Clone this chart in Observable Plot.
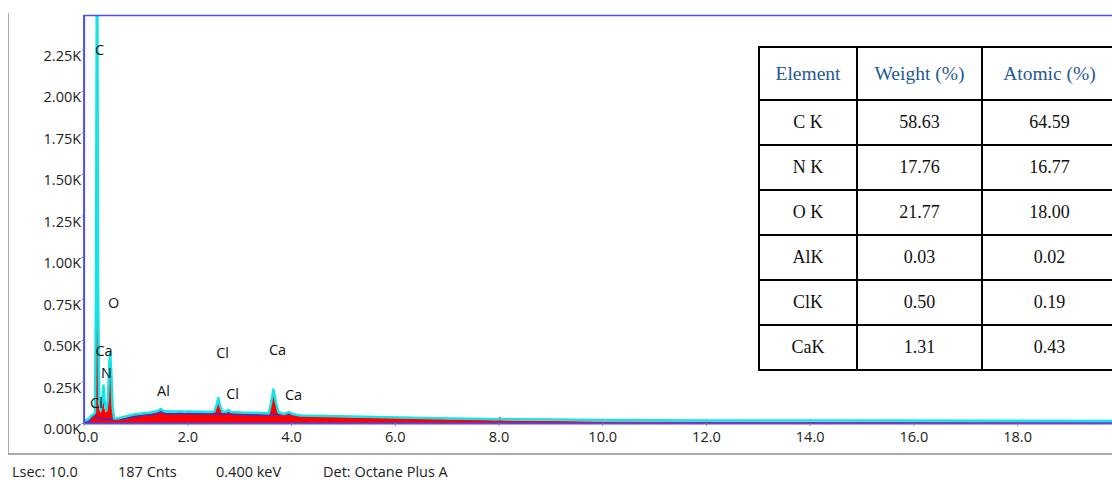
<!DOCTYPE html>
<html>
<head>
<meta charset="utf-8">
<script src="https://cdn.jsdelivr.net/npm/d3@7"></script>
<script src="https://cdn.jsdelivr.net/npm/@observablehq/plot@0.6"></script>
<style>
  body { margin: 0; background: #fff; }
  #wrap { position: relative; width: 1112px; height: 480px; overflow: hidden; font-family: "Open Sans", sans-serif; }
  #chart svg { display: block; }
  #frame { position: absolute; left: 8px; top: 13px; width: 1120px; height: 440px;
           border-left: 1.5px solid #a9a9a9; border-bottom: 2px solid #a9a9a9; pointer-events: none; }
  .foot { position: absolute; top: 462px; font-size: 14.5px; color: #222; white-space: nowrap; }
  table { position: absolute; left: 758px; top: 46px; width: 358px; border-collapse: collapse; background: #fff;
          font-family: "Liberation Serif", serif; font-size: 18px; color: #111; table-layout: fixed; }
  th, td { border: 2px solid #000; text-align: center; font-weight: normal; padding: 0; }
  th { color: #1f5a96; height: 51px; font-size: 19.5px; }
  td { height: 43px; }
</style>
</head>
<body>
<div id="wrap">
  <div id="chart"></div>
  <div id="frame"></div>
  <div id="footer"></div>
</div>
<script>
// EDS spectrum: red = measured counts, cyan = fitted envelope, blue = background
const specEnergy = [0.00, 0.05, 0.10, 0.14, 0.18, 0.21, 0.23, 0.25, 0.27, 0.29, 0.32, 0.345, 0.374, 0.40, 0.43,
  0.46, 0.485, 0.503, 0.525, 0.55, 0.58, 0.64, 0.80, 0.95, 1.05, 1.11, 1.20, 1.28, 1.35, 1.43, 1.48, 1.53,
  1.60, 1.67, 1.75, 1.85, 1.95, 2.05, 2.15, 2.25, 2.35, 2.44, 2.51, 2.55, 2.59, 2.62, 2.67, 2.73, 2.78, 2.84,
  2.95, 3.02, 3.15, 3.25, 3.41, 3.56, 3.60, 3.65, 3.70, 3.75, 3.85, 3.95, 4.02, 4.17, 4.60, 5.14, 5.60, 6.10,
  6.60, 7.07, 7.50, 7.99, 8.03, 8.07, 9.00, 9.96, 11.9, 14.8, 17.7, 19.83];
const specCounts = [6, 8, 18, 36, 44, 52, 700, 3300, 700, 110, 58, 90, 168, 90, 60,
  130, 330, 410, 280, 80, 22, 22, 34, 46, 52, 50, 58, 56, 62, 66, 78, 66,
  62, 64, 60, 66, 62, 65, 60, 66, 60, 62, 64, 100, 145, 100, 62, 60, 70, 60,
  58, 60, 55, 58, 54, 52, 105, 195, 118, 58, 50, 60, 48, 42, 38, 34, 31, 28,
  25, 22, 19, 16, 40, 16, 12, 9, 7, 6, 5, 5];

const fitEnergy = [0.00, 0.05, 0.10, 0.14, 0.18, 0.21, 0.23, 0.25, 0.27, 0.29, 0.32, 0.345, 0.374, 0.40, 0.43,
  0.46, 0.485, 0.503, 0.525, 0.55, 0.58, 0.64, 0.80, 0.95, 1.11, 1.28, 1.38, 1.43, 1.48, 1.53, 1.67, 2.05,
  2.44, 2.51, 2.55, 2.59, 2.62, 2.67, 2.73, 2.78, 2.84, 3.02, 3.41, 3.56, 3.60, 3.65, 3.70, 3.75, 3.85, 3.95,
  4.02, 4.17, 5.14, 6.10, 7.07, 8.03, 9.00, 9.96, 11.9, 14.8, 17.7, 19.83];
const fitCounts = [18, 21, 30, 48, 54, 66, 800, 3300, 800, 150, 78, 130, 229, 120, 78,
  150, 350, 425, 300, 100, 30, 30, 42, 54, 60, 66, 72, 78, 87, 75, 72, 72,
  69, 72, 108, 154, 108, 72, 69, 81, 69, 66, 63, 60, 114, 205, 126, 66, 57, 69,
  57, 48, 42, 36, 30, 26, 24, 21, 18, 18, 16, 15];

const bgEnergy = [0.00, 0.10, 0.15, 0.18, 0.22, 0.26, 0.32, 0.45, 0.60, 0.80, 1.00, 1.20, 1.40, 1.48, 1.56,
  1.80, 2.20, 2.59, 2.70, 2.78, 2.86, 3.20, 3.65, 3.95, 4.05, 4.40, 4.60];
const bgCounts = [8, 14, 40, 55, 45, 30, 30, 28, 26, 30, 42, 52, 56, 75, 58,
  58, 58, 57, 56, 64, 55, 52, 52, 58, 50, 44, 44];

// Element line labels placed above the peaks
const labelText   = ["C", "O", "Ca", "N", "Cl", "Al", "Cl", "Ca", "Cl", "Ca"];
const labelEnergy = [0.297, 0.568, 0.384, 0.432, 0.239, 1.531, 2.669, 3.730, 2.862, 4.039];
const labelCounts = [2247, 723, 434, 301, 120, 193, 422, 440, 175, 169];

const yTicks = [0, 250, 500, 750, 1000, 1250, 1500, 1750, 2000, 2250];
const xTicks = [0, 2, 4, 6, 8, 10, 12, 14, 16, 18];

// Quantification table
const tableHeaders = ["Element", "Weight (%)", "Atomic (%)"];
const elements  = ["C K", "N K", "O K", "AlK", "ClK", "CaK"];
const weightPct = ["58.63", "17.76", "21.77", "0.03", "0.50", "1.31"];
const atomicPct = ["64.59", "16.77", "18.00", "0.02", "0.19", "0.43"];

// Acquisition info line
const footerItems = ["Lsec: 10.0", "187 Cnts", "0.400 keV", "Det: Octane Plus A"];
const footerLeft = [12, 118, 216, 323];

const toRows = (xs, ys) => xs.map((e, i) => ({e, c: ys[i]}));
const spec = toRows(specEnergy, specCounts);
const fit = toRows(fitEnergy, fitCounts);
const bg = toRows(bgEnergy, bgCounts);
const labels = labelText.map((t, i) => ({t, e: labelEnergy[i], c: labelCounts[i]}));

const frameBlue = "#4b4bf2";
const keVFormat = d => d.toFixed(1);

const chart = Plot.plot({
  width: 1112,
  height: 454,
  marginLeft: 83.6,
  marginRight: 0,
  marginTop: 15,
  marginBottom: 31,
  style: {fontFamily: '"Open Sans", sans-serif', fontSize: "14.5px", color: "#222", background: "transparent", overflow: "visible"},
  x: {domain: [0, 19.83]},
  y: {domain: [0, 2458]},
  marks: [
    Plot.areaY(spec, {x: "e", y: "c", fill: "#ff0000", clip: true}),
    Plot.lineY(bg, {x: "e", y: "c", stroke: "#3a2fd0", strokeWidth: 1.5, clip: true}),
    Plot.lineY(fit, {x: "e", y: "c", stroke: "#12e4e8", strokeWidth: 2.5, clip: true}),
    Plot.ruleY([0], {stroke: frameBlue, strokeWidth: 2}),
    Plot.ruleY([2458], {stroke: frameBlue, strokeWidth: 1.5}),
    Plot.ruleX([0], {stroke: frameBlue, strokeWidth: 2}),
    // tick marks sit on the values; labels hang just below them
    Plot.axisY({ticks: yTicks, tickSize: 2, tickFormat: () => "", stroke: "#888", label: null}),
    Plot.axisY({ticks: yTicks, tickSize: 0, tickPadding: 3, dy: 6, tickFormat: d => (d / 1000).toFixed(2) + "K", label: null}),
    Plot.axisX({ticks: xTicks, tickSize: 3, tickFormat: () => "", stroke: "#888", label: null}),
    Plot.axisX({ticks: xTicks.slice(1), tickSize: 0, tickPadding: 8, tickFormat: keVFormat, label: null}),
    // the origin label is nudged right, clear of the y-axis label
    Plot.axisX({ticks: xTicks.slice(0, 1), tickSize: 0, tickPadding: 8, dx: 4, tickFormat: keVFormat, label: null}),
    Plot.text(labels, {x: "e", y: "c", text: "t", fontSize: 14.5, fill: "#111"})
  ]
});
document.getElementById("chart").append(chart);

// footer
const footer = document.getElementById("footer");
footerItems.forEach((s, i) => {
  const span = document.createElement("span");
  span.className = "foot";
  span.style.left = footerLeft[i] + "px";
  span.textContent = s;
  footer.append(span);
});

// table
const table = document.createElement("table");
const colgroup = document.createElement("colgroup");
[98, 125, 135].forEach(w => {
  const col = document.createElement("col");
  col.style.width = w + "px";
  colgroup.append(col);
});
table.append(colgroup);
const head = document.createElement("tr");
tableHeaders.forEach(h => {
  const th = document.createElement("th");
  th.textContent = h;
  head.append(th);
});
table.append(head);
elements.forEach((el, i) => {
  const tr = document.createElement("tr");
  [el, weightPct[i], atomicPct[i]].forEach(v => {
    const td = document.createElement("td");
    td.textContent = v;
    tr.append(td);
  });
  table.append(tr);
});
document.getElementById("wrap").append(table);
</script>
</body>
</html>
